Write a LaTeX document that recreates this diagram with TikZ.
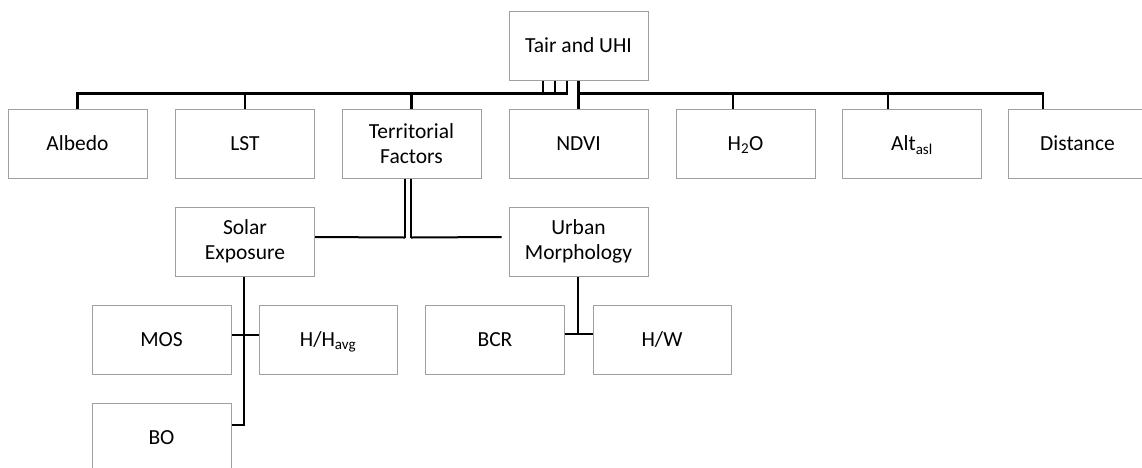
\documentclass[tikz,border=0pt]{standalone}
\usepackage{fontspec}
\setmainfont{Carlito}
\usetikzlibrary{calc}
\definecolor{boxgray}{HTML}{A0A0A0}
\newcommand{\lowsub}[1]{\smash{\textsubscript{#1}}}
\tikzset{
  box/.style={draw=boxgray, line width=1pt, fill=white, minimum width=139pt, minimum height=69pt,
    inner sep=0pt, align=center, font=\fontsize{21.5}{24.5}\selectfont},
  conn/.style={line width=2.6pt, black},
  connthin/.style={line width=2pt, black}
}
\begin{document}
\begin{tikzpicture}[x=1pt,y=-1pt]
\useasboundingbox (0,0) rectangle (1142,467);
% top
\node[box] (tair) at (578.5,45.5) {Tair and UHI};
% row 1
\node[box] (albedo) at (77.5,143.5) {Albedo};
\node[box] (lst) at (245,143.5) {LST};
\node[box] (terr) at (411.5,143.5) {Territorial\\Factors};
\node[box] (ndvi) at (578.5,143.5) {NDVI};
\node[box] (h2o) at (745.5,143.5) {H\lowsub{2}O};
\node[box] (alt) at (912,143.5) {Alt\lowsub{asl}};
\node[box] (dist) at (1077.5,143.5) {Distance};
% row 2
\node[box] (solar) at (245,241.5) {Solar\\Exposure};
\node[box] (urban) at (578.5,241.5) {Urban\\Morphology};
% row 3
\node[box] (mos) at (161.5,339.5) {MOS};
\node[box, minimum width=138pt] (hh) at (328,339.5) {H/H\lowsub{avg}};
\node[box] (bcr) at (495,339.5) {BCR};
\node[box, minimum width=138pt] (hw) at (662,339.5) {H/W};
% row 4
\node[box] (bo) at (161.5,437.5) {BO};
% connectors from top
\draw[conn] ([xshift=-35.5pt]tair.south) -- ++(0,13) -| (albedo.north);
\draw[conn] ([xshift=-23.5pt]tair.south) -- ++(0,13) -| (lst.north);
\draw[conn] ([xshift=-11.5pt]tair.south) -- ++(0,13) -| (terr.north);
\draw[conn] (tair.south) -- (ndvi.north);
\draw[conn] (tair.south) ++(0,13) -| ([xshift=-12.5pt]h2o.north);
\draw[conn] (tair.south) ++(0,13) -| ([xshift=-24pt]alt.north);
\draw[conn] (tair.south) ++(0,13) -| ([xshift=-34.5pt]dist.north);
% territorial factors
\draw[conn] ([xshift=-6.5pt]terr.south) -- ([xshift=-6.5pt,yshift=-59pt]terr.south);
\draw[conn] ([xshift=-0.5pt]terr.south) -- ([xshift=-0.5pt,yshift=-59pt]terr.south);
\draw[connthin] ([xshift=-6.5pt,yshift=-59pt]terr.south) -- ([yshift=4.5pt]solar.east);
\draw[connthin] ([xshift=-0.5pt,yshift=-59pt]terr.south) -- ([xshift=-7pt,yshift=4.5pt]urban.west);
% solar exposure
\draw[conn] ([xshift=-1pt]solar.south) |- ([yshift=12.5pt]bo.east);
\draw[conn] ([yshift=4.5pt]mos.east) -- ([yshift=4.5pt]hh.west);
% urban morphology
\draw[conn] ([xshift=-0.5pt]urban.south) |- ([yshift=5.5pt]bcr.east);
\draw[conn] ([yshift=5.5pt]bcr.east) -- ([yshift=5.5pt]hw.west);
\end{tikzpicture}
\end{document}
